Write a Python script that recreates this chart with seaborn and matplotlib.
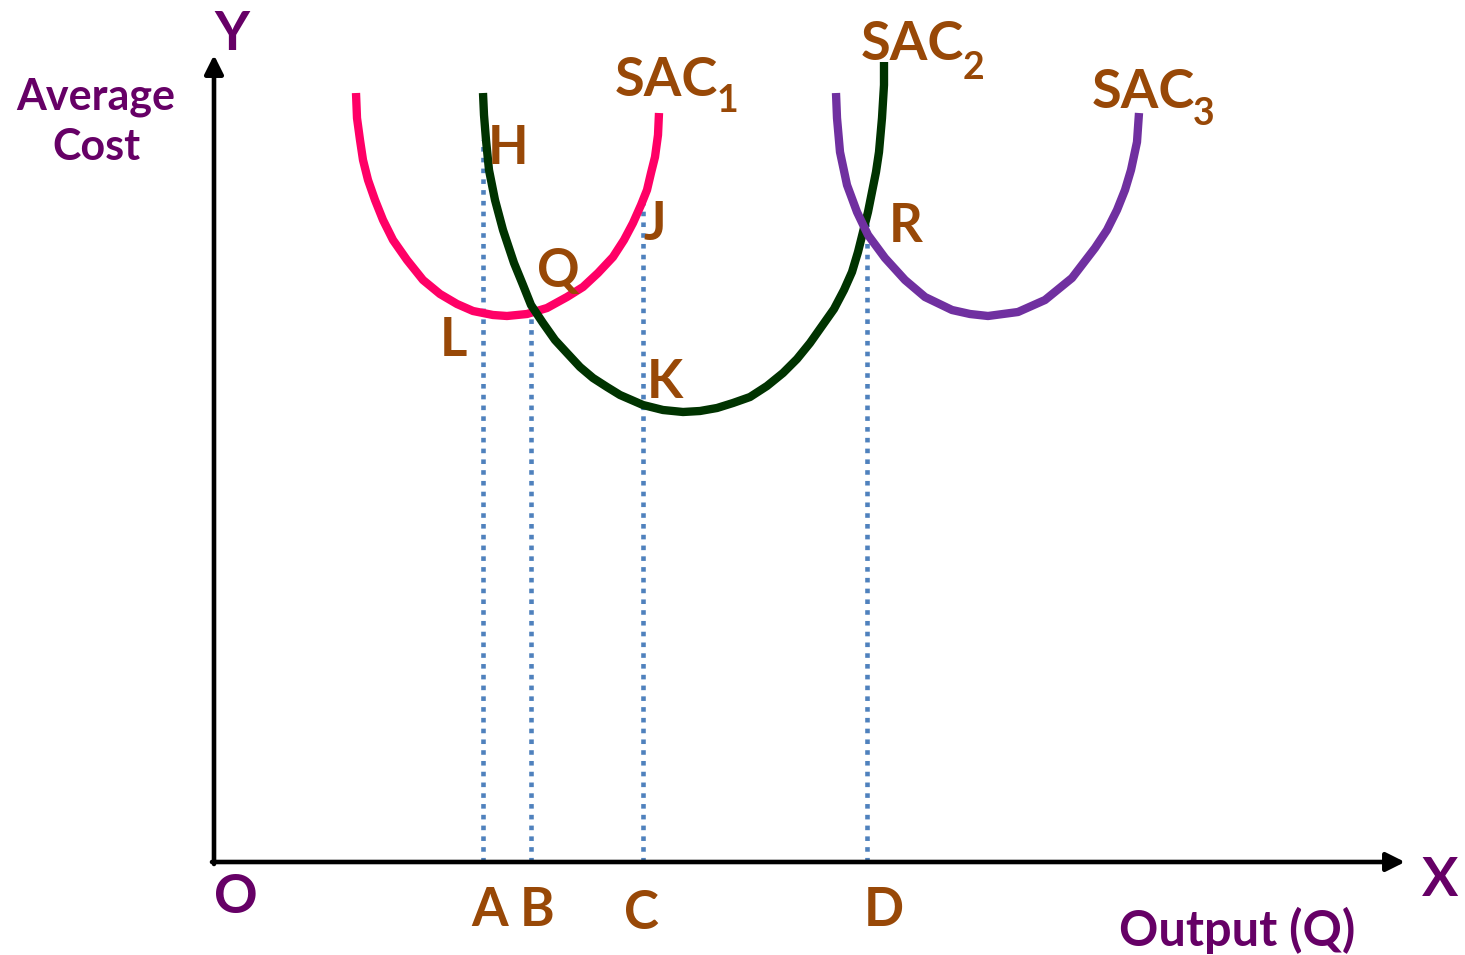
import pandas as pd
import seaborn as sns
import matplotlib.pyplot as plt

# Curve points (output on x, average cost on y)
sac1_q = [142, 143, 146, 149, 154, 161, 169, 179, 193, 209, 226, 243, 259, 279, 293, 313, 333, 353,
          369, 384, 399, 410, 419, 427, 433, 437, 441, 444, 445]
sac1_c = [769, 744, 722, 702, 682, 662, 642, 622, 602, 582, 568, 558, 551, 547, 546, 548, 554, 565,
          575, 589, 605, 622, 639, 657, 672, 689, 705, 727, 749]

sac2_q = [269, 270, 272, 275, 281, 289, 300, 309, 317, 329, 341, 353, 366, 379, 393, 406, 429, 449,
          469, 486, 503, 519, 536, 553, 569, 583, 596, 608, 620, 630, 638, 644, 649, 654, 658, 662,
          665, 668, 670, 670]
sac2_c = [769, 747, 722, 692, 662, 632, 599, 577, 557, 539, 522, 509, 495, 484, 475, 467, 457, 452,
          450, 451, 454, 459, 465, 476, 489, 503, 519, 536, 553, 572, 590, 610, 630, 650, 670, 690,
          710, 744, 777, 800]

sac3_q = [622, 623, 626, 633, 643, 654, 671, 691, 711, 738, 756, 774, 804, 831, 858, 881, 893, 903,
          911, 917, 923, 925]
sac3_c = [769, 744, 710, 677, 650, 627, 604, 582, 565, 552, 548, 546, 550, 562, 584, 614, 632, 652,
          672, 692, 720, 749]

# Output levels A-D and the cost where each dotted guide starts
guide_labels = ['A', 'B', 'C', 'D']
guide_q = [269, 317, 429, 653]
guide_top = [722, 547, 660, 638]

sns.set_theme(style="white")
plt.rcParams['font.family'] = ['Lato', 'DejaVu Sans']
plt.rcParams['font.weight'] = 'bold'

brown = '#984807'
plum = '#660066'

fig = plt.figure(figsize=(14.65, 9.55), dpi=100, facecolor='white')
ax = fig.add_axes([0, 0, 1, 1])
ax.set_xlim(-214, 1251)
ax.set_ylim(-93, 862)
ax.axis('off')

# dotted guides
ax.vlines(guide_q, 0, guide_top, colors='#4F81BD', linewidth=3.3,
          linestyles=(0, (1, 1.35)), zorder=1)

curves = [(sac1_q, sac1_c, '#FF0066'), (sac2_q, sac2_c, '#003300'), (sac3_q, sac3_c, '#7030A0')]
for q, c, col in curves:
    df = pd.DataFrame({'q': q, 'c': c})
    sns.lineplot(data=df, x='q', y='c', sort=False, estimator=None, color=col,
                 linewidth=6, ax=ax, zorder=3, solid_capstyle='butt', solid_joinstyle='round')

# axes arrows
arrow = dict(arrowstyle='-|>', color='black', lw=3.3, mutation_scale=28, shrinkA=0, shrinkB=0)
ax.annotate('', xy=(0, 807), xytext=(0, -2), arrowprops=arrow)
ax.annotate('', xy=(1191, 0), xytext=(-2, 0), arrowprops=arrow)

# point labels
points = {'H': (294, 714), 'L': (239, 522), 'Q': (344, 590),
          'J': (441, 637), 'K': (451, 479), 'R': (692, 635)}
for lab, (x, y) in points.items():
    ax.text(x, y, lab, color=brown, fontsize=38, fontweight='bold', ha='center', va='center')

# curve names with subscripts
for (x, y), (sx, sy), sub in [((401, 781), (513, 761), '1'),
                              ((647, 817), (759, 794), '2'),
                              ((878, 769), (990, 748), '3')]:
    ax.text(x, y, 'SAC', color=brown, fontsize=39, fontweight='bold', ha='left', va='center')
    ax.text(sx, sy, sub, color=brown, fontsize=27, fontweight='bold', ha='center', va='center')

# output level labels
label_pos = [(276, -48), (323, -48), (427, -51), (670, -48)]
for lab, (x, y) in zip(guide_labels, label_pos):
    ax.text(x, y, lab, color=brown, fontsize=38, fontweight='bold', ha='center', va='center')

ax.text(22, -35, 'O', color=plum, fontsize=39, fontweight='bold', ha='center', va='center')
ax.text(18, 827, 'Y', color=plum, fontsize=39, fontweight='bold', ha='center', va='center')
ax.text(1226, -18, 'X', color=plum, fontsize=39, fontweight='bold', ha='center', va='center')
ax.text(-118, 740, 'Average\nCost', color=plum, fontsize=31, fontweight='bold',
        ha='center', va='center', linespacing=1.3)
ax.text(1023, -68, 'Output (Q)', color=plum, fontsize=35, fontweight='bold', ha='center', va='center')

plt.savefig('out.png', dpi=100, facecolor='white')
